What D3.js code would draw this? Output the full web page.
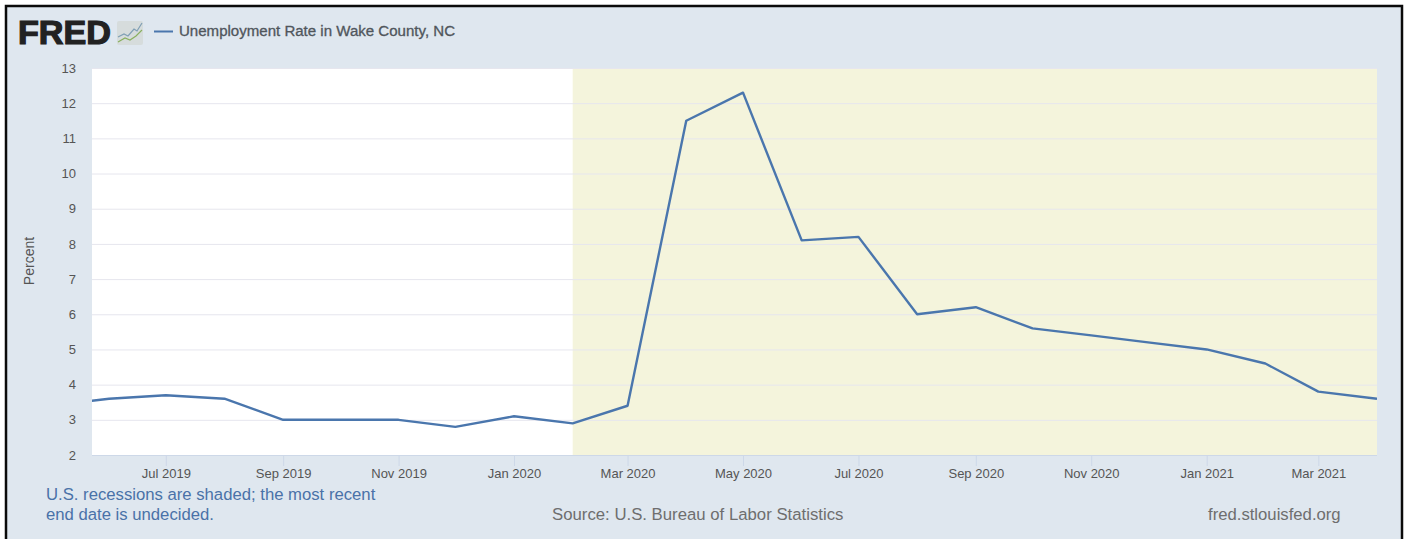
<!DOCTYPE html>
<html><head><meta charset="utf-8">
<script src="https://cdn.jsdelivr.net/npm/d3@7"></script>
<style>html,body{margin:0;padding:0;background:#fff}svg{display:block}text{font-family:"Liberation Sans",Arial,sans-serif}</style>
</head><body><svg id="c" width="1406" height="539"></svg>
<script>
const months = ["2019-05-01","2019-06-01","2019-07-01","2019-08-01","2019-09-01","2019-10-01","2019-11-01","2019-12-01","2020-01-01","2020-02-01","2020-03-01","2020-04-01","2020-05-01","2020-06-01","2020-07-01","2020-08-01","2020-09-01","2020-10-01","2020-11-01","2020-12-01","2021-01-01","2021-02-01","2021-03-01","2021-04-01"];
const rates = [3.4,3.6,3.7,3.6,3.0,3.0,3.0,2.8,3.1,2.9,3.4,11.5,12.3,8.1,8.2,6.0,6.2,5.6,5.4,5.2,5.0,4.6,3.8,3.6];
const yTicks = [2,3,4,5,6,7,8,9,10,11,12,13];
const xTickDates = ["2019-07-01","2019-09-01","2019-11-01","2020-01-01","2020-03-01","2020-05-01","2020-07-01","2020-09-01","2020-11-01","2021-01-01","2021-03-01"];
const recession = ["2020-02-01","2021-04-01"];
const domainDates = ["2019-05-23","2021-04-01"];
const seriesTitle = "Unemployment Rate in Wake County, NC";
const noteLines = ["U.S. recessions are shaded; the most recent","end date is undecided."];
const sourceText = "Source: U.S. Bureau of Labor Statistics";
const siteText = "fred.stlouisfed.org";

const p = d3.utcParse("%Y-%m-%d");
const L=92,R=1377,T=68,B=455;
const x = d3.scaleUtc().domain(domainDates.map(p)).range([L,R]);
const y = d3.scaleLinear().domain([2,13]).range([B,T]);
const svg = d3.select("#c");

svg.append("rect").attr("x",6).attr("y",6).attr("width",1396).attr("height",540)
  .attr("fill","#dfe7ef").attr("stroke","#0a0a0a").attr("stroke-width",2.5);
svg.append("rect").attr("x",L).attr("y",T).attr("width",R-L).attr("height",B-T).attr("fill","#fff");
svg.append("rect").attr("x",x(p(recession[0]))).attr("y",T)
  .attr("width",x(p(recession[1]))-x(p(recession[0]))).attr("height",B-T).attr("fill","#f4f4dc");

const yAxis = svg.append("g").attr("transform",`translate(${L},0)`)
  .call(d3.axisLeft(y).tickValues(yTicks).tickSize(-(R-L)).tickPadding(16));
yAxis.select(".domain").remove();
yAxis.selectAll("line").attr("stroke","#e6e6ee").attr("stroke-width",1);
yAxis.selectAll("text").attr("fill","#555").attr("font-size",13);

const xAxis = svg.append("g").attr("transform",`translate(0,${B})`)
  .call(d3.axisBottom(x).tickValues(xTickDates.map(p)).tickSize(11).tickPadding(3).tickFormat(d3.utcFormat("%b %Y")));
xAxis.select(".domain").attr("stroke","#cdd8e8").attr("d",`M${L},0.5H${R}`);
xAxis.selectAll("line").attr("stroke","#cdd8e8");
xAxis.selectAll("text").attr("fill","#555").attr("font-size",13);

svg.append("clipPath").attr("id","plot").append("rect").attr("x",L).attr("y",T).attr("width",R-L).attr("height",B-T);
svg.append("path").datum(months.map((m,i)=>[p(m),rates[i]]))
  .attr("clip-path","url(#plot)")
  .attr("fill","none").attr("stroke","#4a76ad").attr("stroke-width",2.4).attr("stroke-linejoin","round")
  .attr("d",d3.line().x(d=>x(d[0])).y(d=>y(d[1])));

svg.append("text").attr("transform","translate(34,261) rotate(-90)").attr("text-anchor","middle")
  .attr("fill","#555").attr("font-size",14).text("Percent");

// FRED logo
svg.append("text").attr("x",18).attr("y",44).attr("font-size",33).attr("font-weight",700)
  .attr("fill","#222").attr("stroke","#222").attr("stroke-width",1.2)
  .attr("textLength",93).attr("lengthAdjust","spacingAndGlyphs").text("FRED");
svg.append("rect").attr("x",117).attr("y",21).attr("width",26).attr("height",24).attr("rx",2).attr("fill","#d6dcdc");
svg.append("path").attr("d","M118,37 L124,34 L128,36 L134,29 L137,31 L142,23").attr("fill","none").attr("stroke","#7f9fb5").attr("stroke-width",1.2);
svg.append("path").attr("d","M118,42 L125,38 L130,40 L136,36 L142,30").attr("fill","none").attr("stroke","#8ab060").attr("stroke-width",1.2);

svg.append("line").attr("x1",154).attr("x2",173).attr("y1",31.5).attr("y2",31.5).attr("stroke","#4a76ad").attr("stroke-width",2);
svg.append("text").attr("x",179).attr("y",36).attr("font-size",14).attr("font-weight",400).attr("fill","#50565c")
  .attr("stroke","#50565c").attr("stroke-width",.3)
  .attr("textLength",276).attr("lengthAdjust","spacingAndGlyphs").text(seriesTitle);

svg.append("g").selectAll("text").data(noteLines).join("text")
  .attr("x",46).attr("y",(d,i)=>500+i*20).attr("font-size",16.7).attr("fill","#4a72a8").text(d=>d);
svg.append("text").attr("x",552).attr("y",520).attr("font-size",16.75).attr("fill","#6e6e6e").text(sourceText);
svg.append("text").attr("x",1208).attr("y",520).attr("font-size",16.7).attr("fill","#6e6e6e").text(siteText);
</script></body></html>
